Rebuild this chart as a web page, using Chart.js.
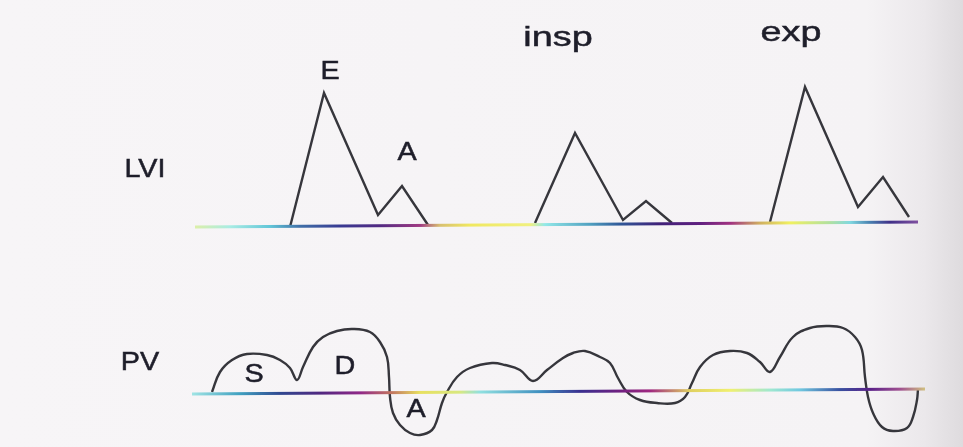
<!DOCTYPE html>
<html>
<head>
<meta charset="utf-8">
<script src="https://cdn.jsdelivr.net/npm/chart.js@4.4.1/dist/chart.umd.min.js"></script>
<style>
  html, body { margin: 0; padding: 0; }
  body {
    width: 963px; height: 447px; overflow: hidden;
    background: linear-gradient(to right, #f7f5f7 0%, #f5f3f5 90%, #ebe8eb 96%, #dedbde 100%);
  }
  .chart-container { position: relative; width: 963px; height: 447px; }
</style>
</head>
<body>
<div class="chart-container"><canvas id="myChart"></canvas></div>
<script>
// time axis runs 0..963, velocities are measured up from each baseline

// left ventricular inflow (E / A waves), null splits the three beats
const lviTime = [290, 324, 378, 402, 428, null, 535, 575, 623, 646, 672, null, 770, 805, 858, 883, 909]
const lviVel = [0, 134, 12, 41, 2, null, 4, 94, 7, 26, 4, null, 5, 140, 20, 50, 10]
const lviBaseTime = [195, 918]
const lviBaseVel = [0, 5]

// pulmonary venous flow (S, D and reversed A)
const pvTime = [212, 220, 232, 247, 267, 280, 290, 297, 303, 313, 323, 337, 353, 370, 380, 387, 389, 390, 393, 400, 410, 420, 432, 437, 442, 447, 457, 470, 492, 505, 520, 533, 547, 563, 573, 585, 600, 610, 618, 627, 640, 657, 675, 685, 692, 700, 713, 730, 747, 760, 770, 780, 793, 810, 827, 843, 855, 862, 865, 868, 873, 882, 893, 907, 913, 917, 918]
const pvVel = [2, 22, 34, 40, 39, 34, 26, 14, 27, 47, 57, 63, 65, 62, 52, 37, 17, -3, -19, -31, -39, -41, -36, -26, -9, 2, 17, 26, 31, 29, 24, 13, 24, 36, 41, 43, 37, 31, 16, 2, -6, -9, -9, -3, 11, 27, 39, 43, 41, 32, 22, 37, 57, 66, 68, 66, 57, 44, 17, -3, -19, -33, -37, -34, -23, -6, 5]
const pvBaseTime = [192, 925]
const pvBaseVel = [0, 5]

// annotations
const labelText = ['E', 'A', 'LVI', 'insp', 'exp', 'PV', 'S', 'D', 'A']
const labelTime = [330, 407, 145, 558, 791, 140, 254, 345, 416]
const labelVel = [155, 74, 57, 189, 194, 31, 19, 27, -16]
const labelAxis = ['yLvi', 'yLvi', 'yLvi', 'yLvi', 'yLvi', 'yPv', 'yPv', 'yPv', 'yPv']

// colour bands of the printed baselines
const lviBand = [
    [195, '#dcefa8'], [230, '#a8ece4'], [270, '#62c6d8'], [300, '#4070a8'], [340, '#383a92'],
    [380, '#522a82'], [420, '#a03a82'], [440, '#d8c070'], [470, '#f0e860'], [530, '#f0f080'],
    [545, '#92e8e8'], [590, '#50a0c0'], [620, '#305898'], [660, '#402078'], [700, '#602080'],
    [730, '#a03080'], [760, '#d0b060'], [790, '#f0f060'], [830, '#b0e0a0'], [850, '#80d8e0'],
    [870, '#4880b0'], [890, '#403088'], [918, '#8050a0']
]
const pvBand = [
    [192, '#a0e4e4'], [240, '#40a0c0'], [280, '#304890'], [320, '#502880'], [360, '#902888'],
    [390, '#c07060'], [420, '#e8e060'], [460, '#d8e880'], [480, '#90e0e0'], [540, '#4090c0'],
    [580, '#3a3090'], [620, '#702080'], [650, '#a02880'], [690, '#e0d060'], [730, '#f0f070'],
    [770, '#a0e8d0'], [800, '#70c8e0'], [840, '#3850a0'], [870, '#5a2088'], [900, '#a05090'],
    [925, '#d0c080']
]

const toPoints = (xs, ys) => xs.map((x, i) => x === null ? { x: null, y: null } : { x: x, y: ys[i] })

const bandGradient = (band) => (context) => {
    const chart = context.chart
    if (!chart.chartArea) return '#555'
    const sx = chart.scales.x
    const x0 = sx.getPixelForValue(band[0][0])
    const x1 = sx.getPixelForValue(band[band.length - 1][0])
    const g = chart.ctx.createLinearGradient(x0, 0, x1, 0)
    band.forEach(b => g.addColorStop((sx.getPixelForValue(b[0]) - x0) / (x1 - x0), b[1]))
    return g
}

const traceColor = '#36363c'

const labelPlugin = {
    id: 'waveLabels',
    afterDatasetsDraw(chart) {
        const c = chart.ctx
        c.save()
        c.fillStyle = '#1e1e2a'
        c.strokeStyle = '#1e1e2a'
        c.lineWidth = 0.5
        c.textAlign = 'center'
        c.textBaseline = 'middle'
        labelText.forEach((t, i) => {
            const px = chart.scales.x.getPixelForValue(labelTime[i])
            const py = chart.scales[labelAxis[i]].getPixelForValue(labelVel[i])
            const lower = t === t.toLowerCase()
            c.save()
            c.translate(px, py)
            c.scale(lower ? 1.35 : 1.15, 1)
            c.font = (lower ? '28px' : '25px') + ' "Liberation Sans", Arial, sans-serif'
            c.fillText(t, 0, 0)
            c.strokeText(t, 0, 0)
            c.restore()
        })
        c.restore()
    }
}

let ctx = document.getElementById('myChart').getContext('2d')

new Chart(ctx, {
    type: 'line',
    data: {
        datasets: [{
            data: toPoints(lviBaseTime, lviBaseVel),
            yAxisID: 'yLvi',
            borderColor: bandGradient(lviBand),
            borderWidth: 3,
            pointRadius: 0
        }, {
            data: toPoints(pvBaseTime, pvBaseVel),
            yAxisID: 'yPv',
            borderColor: bandGradient(pvBand),
            borderWidth: 3,
            pointRadius: 0
        }, {
            data: toPoints(lviTime, lviVel),
            yAxisID: 'yLvi',
            borderColor: traceColor,
            borderWidth: 2.4,
            pointRadius: 0,
            tension: 0,
            spanGaps: false
        }, {
            data: toPoints(pvTime, pvVel),
            yAxisID: 'yPv',
            borderColor: traceColor,
            borderWidth: 2.4,
            pointRadius: 0,
            tension: 0.4
        }]
    },
    options: {
        responsive: true,
        maintainAspectRatio: false,
        animation: false,
        layout: { padding: 0 },
        plugins: { legend: { display: false }, tooltip: { enabled: false } },
        scales: {
            x: { type: 'linear', min: 0, max: 963, display: false },
            yLvi: { min: -220, max: 227, display: false },
            yPv: { min: -53, max: 394, display: false }
        }
    },
    plugins: [labelPlugin]
})
</script>
</body>
</html>
